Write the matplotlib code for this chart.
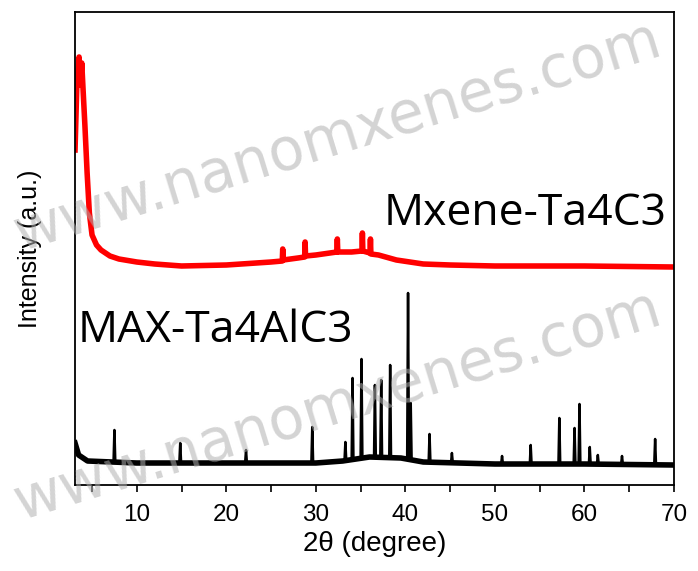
import matplotlib
matplotlib.use("Agg")
import matplotlib.pyplot as plt
import numpy as np

plt.rcParams["font.family"] = ["Liberation Sans", "DejaVu Sans"]

# ----------------------------------------------------------------------
# Data (2θ in degree, intensity in arbitrary units)
# ----------------------------------------------------------------------
# MAX-Ta4AlC3: background points + peak list (position, peak top)
max_bg_x = [3.1, 3.5, 4.5, 10, 20, 30, 33.0, 36.0, 39.5, 42.0, 50, 60, 70]
max_bg_y = [42, 30, 24, 22, 22, 22, 24, 28, 27, 23, 21, 21, 20]
max_peak_x = [7.5, 14.85, 22.2, 29.6, 33.3, 34.1, 35.1, 36.6, 37.3, 38.3,
              40.3, 40.6, 42.7, 45.2, 50.8, 54.0, 57.2, 58.9, 59.45, 60.6,
              61.5, 64.2, 67.9]
max_peak_y = [55, 42, 35, 58, 43, 107, 126, 100, 105, 120,
              192, 82, 51, 32, 29, 40, 67, 57, 81, 38,
              30, 29, 46]

# Mxene-Ta4C3: traced curve points
mx_x = [3.1, 3.3, 3.55, 3.7, 3.85, 4.0, 4.2, 4.45, 4.7, 5.0, 5.5, 6.0, 7.0,
        8.0, 10, 12, 15, 20, 25, 26.25, 26.3, 26.35, 28.0, 28.75, 28.8,
        28.85, 30, 32.35, 32.4, 32.45, 34.0, 35.15, 35.2, 35.25, 36.05,
        36.1, 36.15, 37, 39, 42, 45, 50, 60, 70]
mx_y = [335, 400, 428, 400, 422, 395, 360, 312, 272, 250, 240, 235, 229,
        226, 223, 221, 219, 220, 223, 224, 236, 225, 227, 228, 243, 229,
        230, 233, 246, 233, 233, 234, 252, 234, 232, 246, 231, 230, 225,
        221, 220, 219, 219, 218]

xticks = [10, 20, 30, 40, 50, 60, 70]
xminor = [5, 15, 25, 35, 45, 55, 65]

fig = plt.figure(figsize=(6.98, 5.71), dpi=100)
ax = fig.add_axes([0.1075, 0.1506, 0.858, 0.8284])

# black pattern: background band + narrow peaks on top of it
hw = 0.1
pk_x, pk_y = [], []
for p, h in zip(max_peak_x, max_peak_y):
    b = np.interp(p, max_bg_x, max_bg_y)
    pk_x += [p - hw, p, p + hw, np.nan]
    pk_y += [b, h, b, np.nan]
ax.plot(max_bg_x, max_bg_y, color="black", lw=4.0)
ax.plot(pk_x, pk_y, color="black", lw=1.8)

ax.plot(mx_x, mx_y, color="#ff0000", lw=4.0)

ax.set_xlim(3.1, 70)
ax.set_ylim(0, 473)
ax.set_yticks([])
ax.set_xticks(xticks)
ax.set_xticks(xminor, minor=True)
ax.tick_params(axis="x", which="both", direction="out", length=5, width=1.2,
               labelsize=17.5, pad=9)
for s in ax.spines.values():
    s.set_linewidth(1.3)

ax.set_xlabel("2θ (degree)", fontsize=20, labelpad=3)
ax.set_ylabel("Intensity (a.u.)", fontsize=18, labelpad=24)

ax.text(0.005, 0.326, "MAX-Ta4AlC3", transform=ax.transAxes, fontsize=32,
        family="Open Sans", va="center", ha="left")
ax.text(0.515, 0.573, "Mxene-Ta4C3", transform=ax.transAxes, fontsize=32,
        family="Open Sans", va="center", ha="left")

# watermark
for x0, y0 in [(0.01, 0.54), (0.01, 0.07)]:
    fig.text(x0, y0, "www.nanomxenes.com", fontsize=42, color="#b0b0b0",
             alpha=0.55, rotation=17, ha="left", va="bottom",
             family="DejaVu Sans")

fig.savefig("out.png", dpi=100)
